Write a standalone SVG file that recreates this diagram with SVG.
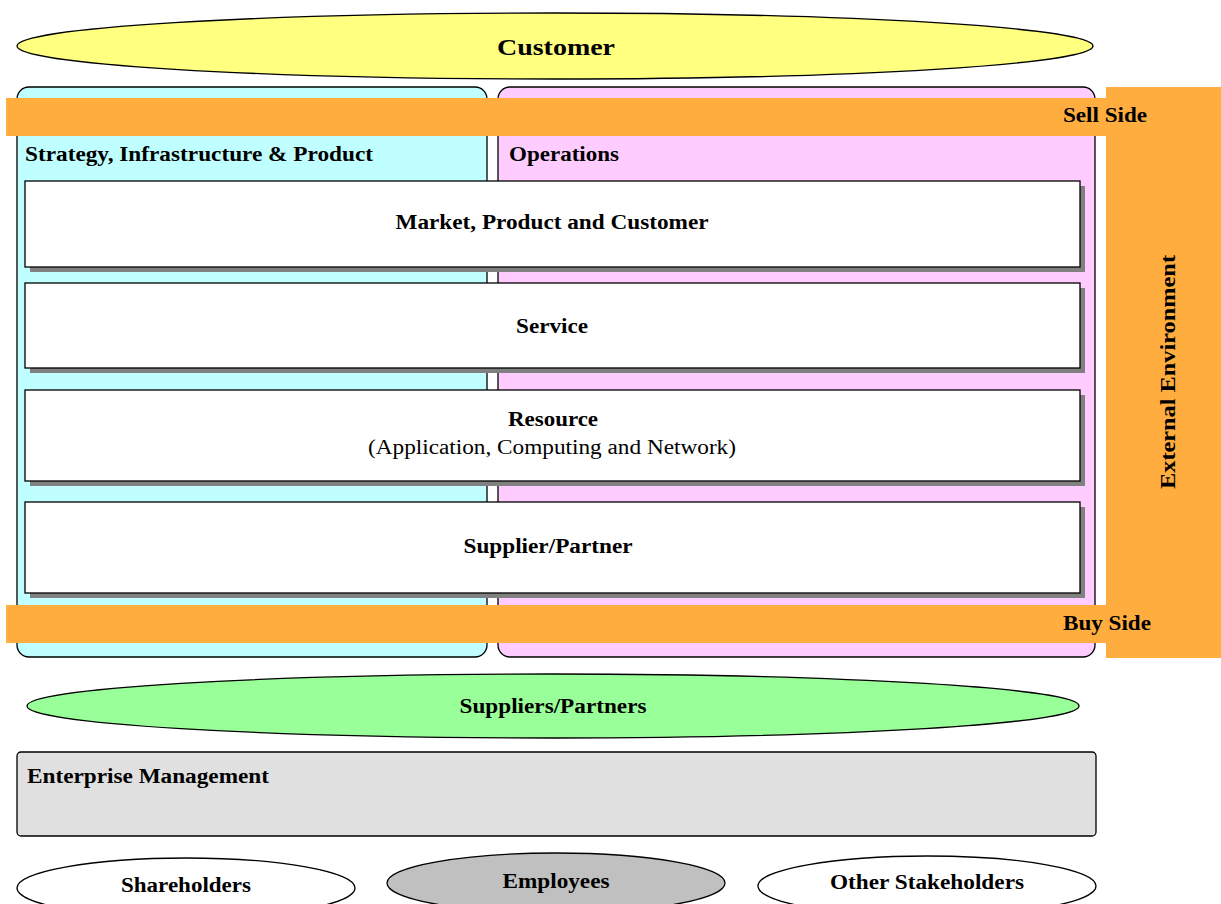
<svg xmlns="http://www.w3.org/2000/svg" width="1221" height="904" viewBox="0 0 1221 904">
<style>
text{font-family:"Liberation Serif","Times New Roman",serif;fill:#000}
.b{font-weight:bold;font-size:20px}
.c{text-anchor:middle}
.ln{stroke:#000;stroke-width:1.3}
.band{fill:#FFAD3F}
.box{fill:#fff;stroke:#000;stroke-width:1.3}
.sh{fill:#808080}
</style>
<rect width="1221" height="904" fill="#fff"/>
<g id="customer">
<ellipse cx="555" cy="46" rx="538" ry="33" fill="#FFFF80" class="ln"/>
<text x="556" y="55" class="b c" style="font-size:24px" textLength="118" lengthAdjust="spacingAndGlyphs">Customer</text>
</g>
<g id="strategy-panel">
<rect x="17" y="87" width="470" height="570" rx="12" fill="#C0FFFF" class="ln"/>
</g>
<g id="operations-panel">
<rect x="498" y="87" width="597" height="570" rx="12" fill="#FFCCFF" class="ln"/>
</g>
<g id="external-environment">
<rect x="1106" y="87" width="115" height="571" class="band"/>
<text transform="translate(1175,372) rotate(-90)" class="b c" textLength="234" lengthAdjust="spacingAndGlyphs">External Environment</text>
</g>
<g id="sell-side">
<rect x="6" y="98" width="1101" height="38" class="band"/>
<text x="1105" y="122" class="b c" textLength="84" lengthAdjust="spacingAndGlyphs">Sell Side</text>
</g>
<g id="buy-side">
<rect x="6" y="605" width="1101" height="38" class="band"/>
<text x="1107" y="630" class="b c" textLength="88" lengthAdjust="spacingAndGlyphs">Buy Side</text>
</g>
<g id="panel-labels">
<text x="25" y="161" class="b" textLength="348" lengthAdjust="spacingAndGlyphs">Strategy, Infrastructure &amp; Product</text>
<text x="509" y="161" class="b" textLength="110" lengthAdjust="spacingAndGlyphs">Operations</text>
</g>
<g id="market-product-customer">
<rect x="30" y="186" width="1055" height="86" class="sh"/>
<rect x="25" y="181" width="1055" height="86" class="box"/>
<text x="552" y="229" class="b c" textLength="313" lengthAdjust="spacingAndGlyphs">Market, Product and Customer</text>
</g>
<g id="service">
<rect x="30" y="288" width="1055" height="85" class="sh"/>
<rect x="25" y="283" width="1055" height="85" class="box"/>
<text x="552" y="333" class="b c" textLength="72" lengthAdjust="spacingAndGlyphs">Service</text>
</g>
<g id="resource">
<rect x="30" y="395" width="1055" height="91" class="sh"/>
<rect x="25" y="390" width="1055" height="91" class="box"/>
<text x="553" y="426" class="b c" textLength="90" lengthAdjust="spacingAndGlyphs">Resource</text>
<text x="552" y="454" class="c" style="font-size:20px" textLength="368" lengthAdjust="spacingAndGlyphs">(Application, Computing and Network)</text>
</g>
<g id="supplier-partner">
<rect x="30" y="507" width="1055" height="91" class="sh"/>
<rect x="25" y="502" width="1055" height="91" class="box"/>
<text x="548" y="553" class="b c" textLength="169" lengthAdjust="spacingAndGlyphs">Supplier/Partner</text>
</g>
<g id="suppliers-partners">
<ellipse cx="553" cy="706" rx="526" ry="32" fill="#99FF99" class="ln"/>
<text x="553" y="713" class="b c" textLength="187" lengthAdjust="spacingAndGlyphs">Suppliers/Partners</text>
</g>
<g id="enterprise-management">
<rect x="17" y="752" width="1079" height="84" rx="4" fill="#E0E0E0" class="ln"/>
<text x="27" y="783" class="b" textLength="242" lengthAdjust="spacingAndGlyphs">Enterprise Management</text>
</g>
<g id="shareholders">
<ellipse cx="186" cy="888" rx="169" ry="30" fill="#fff" class="ln"/>
<text x="186" y="892" class="b c" textLength="130" lengthAdjust="spacingAndGlyphs">Shareholders</text>
</g>
<g id="employees">
<ellipse cx="556" cy="883" rx="169" ry="30" fill="#C0C0C0" class="ln"/>
<text x="556" y="888" class="b c" textLength="107" lengthAdjust="spacingAndGlyphs">Employees</text>
</g>
<g id="other-stakeholders">
<ellipse cx="927" cy="886" rx="169" ry="30" fill="#fff" class="ln"/>
<text x="927" y="889" class="b c" textLength="194" lengthAdjust="spacingAndGlyphs">Other Stakeholders</text>
</g>
<g id="connectors"/>
</svg>
